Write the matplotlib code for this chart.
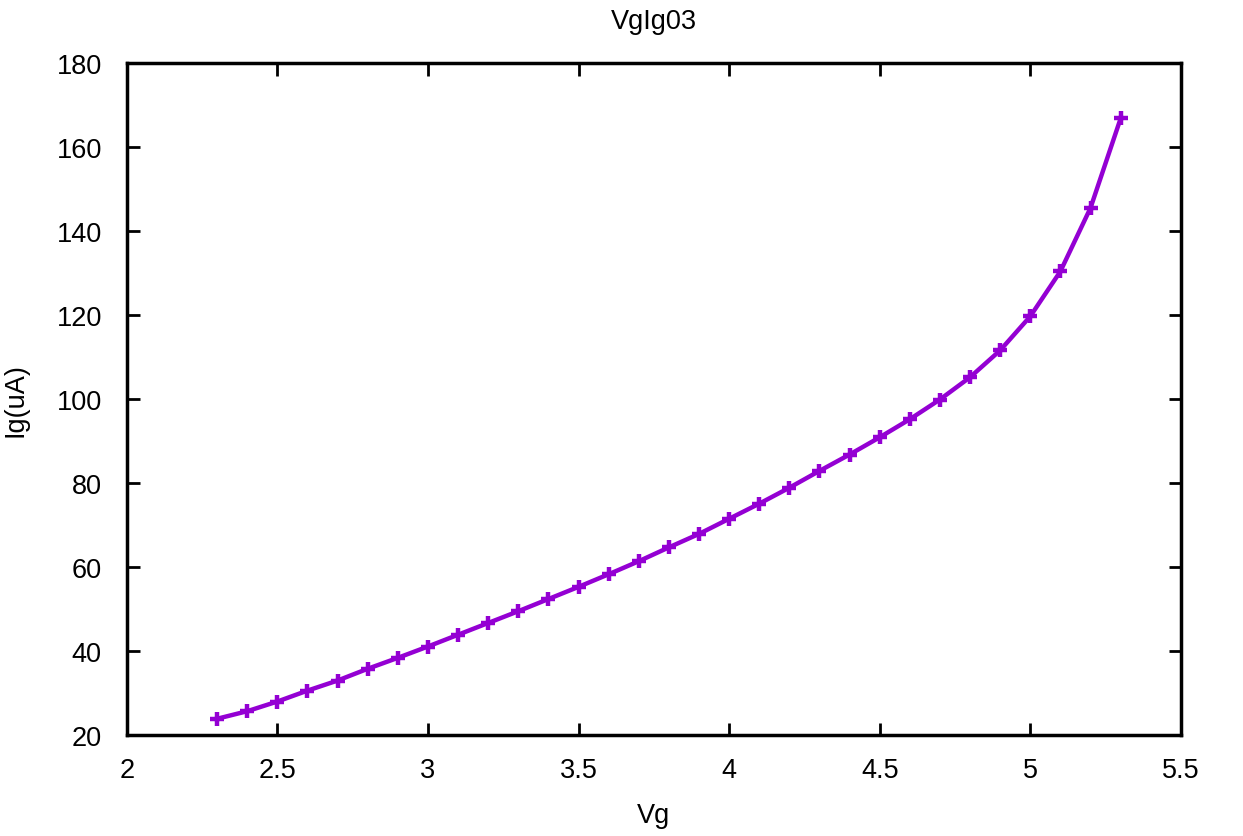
import matplotlib
matplotlib.use("Agg")
import matplotlib.pyplot as plt

plt.rcParams['font.family'] = ['Liberation Sans', 'DejaVu Sans']

vg = [2.3, 2.4, 2.5, 2.6, 2.7, 2.8, 2.9, 3.0, 3.1, 3.2, 3.3, 3.4, 3.5, 3.6, 3.7,
      3.8, 3.9, 4.0, 4.1, 4.2, 4.3, 4.4, 4.5, 4.6, 4.7, 4.8, 4.9, 5.0, 5.1, 5.2, 5.3]
ig = [23.8, 25.6, 27.9, 30.5, 32.9, 35.7, 38.3, 41.0, 43.8, 46.6, 49.4, 52.3, 55.2,
      58.2, 61.3, 64.6, 67.8, 71.4, 75.0, 78.8, 82.8, 86.7, 90.8, 95.1, 99.8, 105.1,
      111.5, 119.6, 130.3, 145.4, 166.7]

xticks = [2, 2.5, 3, 3.5, 4, 4.5, 5, 5.5]
xticklabels = ["2", "2.5", "3", "3.5", "4", "4.5", "5", "5.5"]
yticks = [20, 40, 60, 80, 100, 120, 140, 160, 180]

fig = plt.figure(figsize=(12.43, 8.37), dpi=100)
ax = fig.add_axes([0.102, 0.121, 0.848, 0.803])

ax.plot(vg, ig, '-', color='#9400D3', linewidth=3.2, marker='+', markersize=10,
        markeredgewidth=3.2)

ax.set_xlim(2, 5.5)
ax.set_ylim(20, 180)
ax.set_xticks(xticks)
ax.set_xticklabels(xticklabels)
ax.set_yticks(yticks)

bwidth = 2.5
for s in ax.spines.values():
    s.set_linewidth(bwidth)
ax.tick_params(axis='x', which='major', pad=16)
ax.tick_params(axis='y', which='major', pad=18)
ax.tick_params(axis='both', which='major', direction='in', length=9, width=2,
               labelsize=19.5, top=True, right=True)

ax.set_title("VgIg03", fontsize=19.5, pad=25)
ax.set_xlabel("Vg", fontsize=19.5, labelpad=14)
ax.set_ylabel("Ig(uA)", fontsize=19.5, labelpad=20)

fig.savefig("out.png", dpi=100)
